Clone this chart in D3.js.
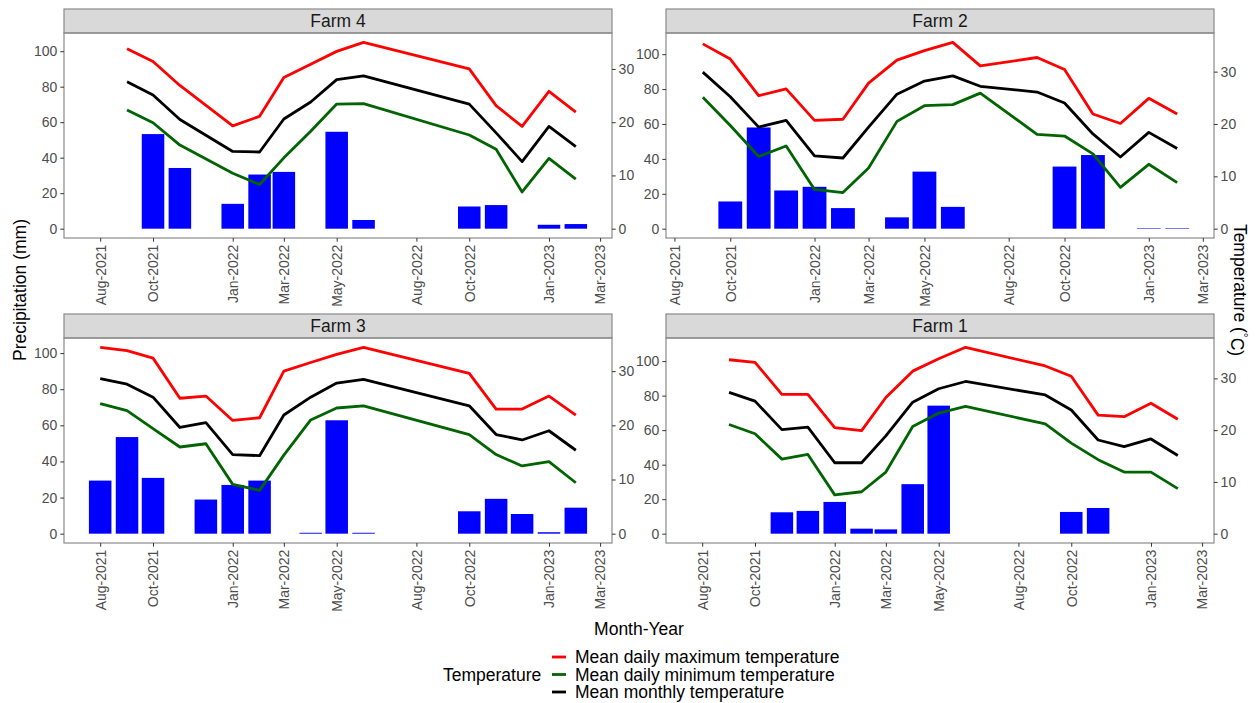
<!DOCTYPE html>
<html>
<head>
<meta charset="utf-8">
<script src="https://cdn.jsdelivr.net/npm/d3@7"></script>
<style>
  body { margin: 0; background: #fff; }
  text { font-family: "Liberation Sans", Arial, sans-serif; }
</style>
</head>
<body>
<svg id="chart" width="1257" height="703"></svg>
<script>
// monthly rows, Aug-2021 .. Feb-2023
const months = ['2021-08', '2021-09', '2021-10', '2021-11', '2021-12', '2022-01', '2022-02', '2022-03',
  '2022-04', '2022-05', '2022-06', '2022-07', '2022-08', '2022-09', '2022-10', '2022-11', '2022-12',
  '2023-01', '2023-02'];

const xTickMonths = ['2021-08', '2021-10', '2022-01', '2022-03', '2022-05', '2022-08', '2022-10', '2023-01', '2023-03'];
const precipTicks = [0, 20, 40, 60, 80, 100];
const tempTicks = [0, 10, 20, 30];

const farms = ['Farm 4', 'Farm 2', 'Farm 3', 'Farm 1'];
const farmStart = ['2021-08', '2021-09', '2021-08', '2021-08'];

// precipitation (mm)
const farm4Precip = [null, null, 53.3, 34.2, null, 14, 30.5, 32, null, 54.6, 4.9, null, null, null, 12.5, 13.3, null, 2.2, 2.6];
const farm2Precip = [null, null, 15.6, 58, 21.9, 24, 11.8, null, 6.5, 32.7, 12.5, null, null, null, 35.6, 42.2, null, 0.3, 0.3];
const farm3Precip = [29.4, 53.5, 30.9, null, 18.9, 27, 29.4, null, 0.5, 62.8, 0.5, null, null, null, 12.4, 19.3, 10.9, 0.8, 14.4];
const farm1Precip = [null, null, null, 12.4, 13.2, 18.4, 2.9, 2.5, 28.7, 74.2, null, null, null, null, 12.6, 14.9, null, null, null];

// mean daily maximum temperature (C)
const farm4Tmax = [null, 33.8, 31.4, 26.9, null, 19.3, 21.1, 28.4, 30.9, 33.3, 35, null, null, null, 30, 23.1, 19.2, 25.8, 21.9];
const farm2Tmax = [null, 35.3, 32.4, 25.4, 26.7, 20.7, 20.9, 27.8, 32.2, 34, 35.6, 31.1, null, 32.7, 30.4, 21.9, 20.1, 24.9, 21.9];
const farm3Tmax = [34.4, 33.8, 32.4, 25, 25.4, 20.9, 21.4, 30, 31.6, 33.1, 34.4, null, null, null, 29.6, 23, 23, 25.4, 21.9];
const farm1Tmax = [null, 33.6, 33.1, 26.9, 26.9, 20.5, 19.9, 26.3, 31.4, 33.8, 36, null, null, 32.4, 30.4, 22.9, 22.6, 25.2, 22.1];

// mean daily minimum temperature (C)
const farm4Tmin = [null, 22.3, 19.9, 15.7, null, 10.4, 8.3, 13.3, 18.3, 23.4, 23.5, null, null, null, 17.6, 14.9, 6.9, 13.2, 9.3];
const farm2Tmin = [null, 25.1, 19.7, 13.8, 15.8, 7.5, 6.9, 11.6, 20.5, 23.5, 23.7, 25.9, null, 18, 17.7, 14.3, 7.9, 12.3, 8.8];
const farm3Tmin = [24, 22.7, 19.4, 16, 16.6, 9.1, 8, 14.5, 21, 23.2, 23.6, null, null, null, 18.3, 14.6, 12.5, 13.3, 9.4];
const farm1Tmin = [null, 21.1, 19.3, 14.4, 15.3, 7.5, 8.1, 11.9, 20.7, 23.3, 24.6, null, null, 21.2, 17.5, 14.3, 11.9, 11.9, 8.7];

// mean monthly temperature (C)
const farm4Tmean = [null, 27.6, 25.1, 20.5, null, 14.5, 14.4, 20.6, 23.8, 28, 28.7, null, null, null, 23.4, 18, 12.6, 19.2, 15.4];
const farm2Tmean = [null, 29.9, 25.2, 19.4, 20.7, 13.9, 13.5, 19.4, 25.7, 28.2, 29.2, 27.2, null, 26.1, 24, 18.1, 13.7, 18.4, 15.3];
const farm3Tmean = [28.6, 27.6, 25.2, 19.6, 20.5, 14.6, 14.4, 21.9, 25.2, 27.8, 28.5, null, null, null, 23.6, 18.3, 17.3, 19, 15.4];
const farm1Tmean = [null, 27.3, 25.6, 20.1, 20.6, 13.7, 13.7, 18.9, 25.4, 28, 29.4, null, null, 26.8, 23.9, 18.1, 16.8, 18.3, 15.1];

const seriesNames = ['Mean daily maximum temperature', 'Mean daily minimum temperature', 'Mean monthly temperature'];

const farmData = {
  'Farm 4': { precip: farm4Precip, temps: [farm4Tmax, farm4Tmin, farm4Tmean] },
  'Farm 2': { precip: farm2Precip, temps: [farm2Tmax, farm2Tmin, farm2Tmean] },
  'Farm 3': { precip: farm3Precip, temps: [farm3Tmax, farm3Tmin, farm3Tmean] },
  'Farm 1': { precip: farm1Precip, temps: [farm1Tmax, farm1Tmin, farm1Tmean] },
};

const lineColors = ['#ff0000', '#006400', '#000000'];
const tempFactor = 3;   // secondary axis: mm = C * 3
const halfBar = 13;     // days
const font = '"Liberation Sans", Arial, sans-serif';

const parseMonth = d3.utcParse('%Y-%m');
const fmtMonth = d3.utcFormat('%b-%Y');

const svg = d3.select('#chart');

const boxes = [
  { x0: 64, x1: 612, y0: 33, y1: 238 },
  { x0: 666, x1: 1214, y0: 33, y1: 238 },
  { x0: 64, x1: 612, y0: 338, y1: 543 },
  { x0: 666, x1: 1214, y0: 338, y1: 543 },
];

function styleAxis(g) {
  g.select('.domain').remove();
  g.selectAll('.tick line').attr('stroke', '#333').attr('stroke-width', 1);
  g.selectAll('.tick text').attr('fill', '#4d4d4d').style('font-size', '14px').style('font-family', font);
}

farms.forEach((farm, fi) => {
  const box = boxes[fi];
  const d = farmData[farm];
  const dates = months.map(parseMonth);

  const lo = d3.utcDay.offset(parseMonth(farmStart[fi]), -halfBar);
  const hi = d3.utcDay.offset(dates[dates.length - 1], halfBar);
  const pad = (hi - lo) * 0.05;
  const x = d3.scaleUtc()
    .domain([new Date(+lo - pad), new Date(+hi + pad)])
    .range([box.x0, box.x1]);

  const yMax = Math.max(d3.max(d.precip), d3.max(d.temps.flat()) * tempFactor);
  const y = d3.scaleLinear()
    .domain([-0.05 * yMax, 1.05 * yMax])
    .range([box.y1, box.y0]);
  const yT = d3.scaleLinear()
    .domain(y.domain().map((v) => v / tempFactor))
    .range(y.range());

  const g = svg.append('g');

  // strip
  g.append('rect')
    .attr('x', box.x0).attr('y', box.y0 - 24)
    .attr('width', box.x1 - box.x0).attr('height', 24)
    .attr('fill', '#d9d9d9').attr('stroke', '#8a8a8a').attr('stroke-width', 1.2);
  g.append('text')
    .attr('x', (box.x0 + box.x1) / 2).attr('y', box.y0 - 12)
    .attr('dy', '0.35em').attr('text-anchor', 'middle')
    .attr('fill', '#1a1a1a').style('font-size', '17.5px')
    .text(farm);

  // bars
  const barRows = dates.map((dt, i) => ({ date: dt, value: d.precip[i] })).filter((r) => r.value != null);
  g.append('g')
    .selectAll('rect')
    .data(barRows)
    .enter()
    .append('rect')
    .attr('x', (r) => x(d3.utcDay.offset(r.date, -halfBar)))
    .attr('width', (r) => x(d3.utcDay.offset(r.date, halfBar)) - x(d3.utcDay.offset(r.date, -halfBar)))
    .attr('y', (r) => y(r.value))
    .attr('height', (r) => y(0) - y(r.value))
    .attr('fill', '#0000ff');

  // temperature lines
  const line = d3.line()
    .x((r) => x(r.date))
    .y((r) => y(r.value * tempFactor));
  d.temps.forEach((series, si) => {
    const pts = dates.map((dt, i) => ({ date: dt, value: series[i] })).filter((r) => r.value != null);
    g.append('path')
      .datum(pts)
      .attr('d', line)
      .attr('fill', 'none')
      .attr('stroke', lineColors[si])
      .attr('stroke-width', 2.8)
      .attr('stroke-linejoin', 'round');
  });

  // panel border
  g.append('rect')
    .attr('x', box.x0).attr('y', box.y0)
    .attr('width', box.x1 - box.x0).attr('height', box.y1 - box.y0)
    .attr('fill', 'none').attr('stroke', '#8a8a8a').attr('stroke-width', 1.2);

  // axes
  g.append('g')
    .attr('transform', `translate(${box.x0},0)`)
    .call(d3.axisLeft(y).tickValues(precipTicks).tickSize(3.7).tickPadding(2.9))
    .call(styleAxis);

  g.append('g')
    .attr('transform', `translate(${box.x1},0)`)
    .call(d3.axisRight(yT).tickValues(tempTicks).tickSize(3.7).tickPadding(2.9))
    .call(styleAxis);

  const xAxis = g.append('g')
    .attr('transform', `translate(0,${box.y1})`)
    .call(d3.axisBottom(x).tickValues(xTickMonths.map(parseMonth)).tickFormat(fmtMonth).tickSize(3.7))
    .call(styleAxis);
  xAxis.selectAll('.tick text')
    .attr('transform', 'rotate(-90)')
    .attr('x', -6.6)
    .attr('y', 0)
    .attr('dy', '0.35em')
    .attr('text-anchor', 'end');
});

// axis titles
svg.append('text')
  .attr('transform', 'translate(20,290) rotate(-90)')
  .attr('text-anchor', 'middle').attr('dy', '0.35em')
  .style('font-size', '17.5px')
  .text('Precipitation (mm)');

const tTitle = svg.append('text')
  .attr('transform', 'translate(1240,290) rotate(90)')
  .attr('text-anchor', 'middle').attr('dy', '0.35em')
  .style('font-size', '17.5px');
tTitle.append('tspan').text('Temperature (');
tTitle.append('tspan').attr('dy', '-0.45em').style('font-size', '12px').text('\u00b0');
tTitle.append('tspan').attr('dy', '0.45em').text('C)');

svg.append('text')
  .attr('x', 639).attr('y', 629)
  .attr('text-anchor', 'middle').attr('dy', '0.35em')
  .style('font-size', '17.5px')
  .text('Month-Year');

// legend
const legend = svg.append('g');
legend.append('text')
  .attr('x', 443).attr('y', 675).attr('dy', '0.35em')
  .style('font-size', '17.5px')
  .text('Temperature');

legend.selectAll('line')
  .data(seriesNames)
  .enter()
  .append('line')
  .attr('x1', 552).attr('x2', 566)
  .attr('y1', (s, i) => 657 + i * 17.5)
  .attr('y2', (s, i) => 657 + i * 17.5)
  .attr('stroke', (s, i) => lineColors[i])
  .attr('stroke-width', 2.8);

legend.selectAll('text.item')
  .data(seriesNames)
  .enter()
  .append('text')
  .attr('class', 'item')
  .attr('x', 575)
  .attr('y', (s, i) => 657 + i * 17.5)
  .attr('dy', '0.35em')
  .style('font-size', '17.5px')
  .text((s) => s);
</script>
</body>
</html>
